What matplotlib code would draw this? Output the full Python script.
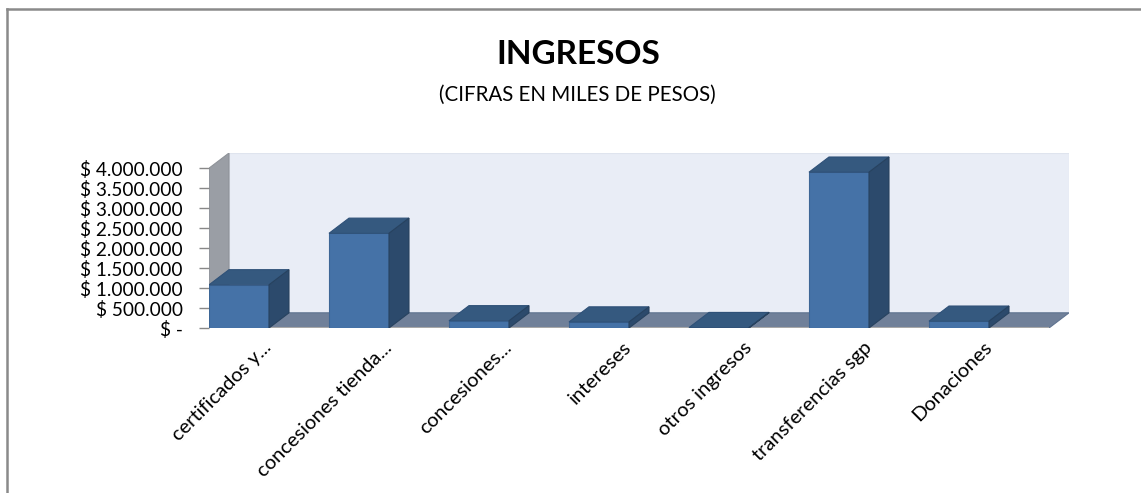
import numpy as np
import matplotlib
matplotlib.use('Agg')
import matplotlib.pyplot as plt
from matplotlib.patches import Polygon
from matplotlib.lines import Line2D

# data (miles de pesos)
categories = ['certificados y...', 'concesiones tienda...', 'concesiones...', 'intereses',
              'otros ingresos', 'transferencias sgp', 'Donaciones']
ingresos = [1080000, 2370000, 180000, 150000, 10000, 3900000, 170000]
y_ticks = [0, 500000, 1000000, 1500000, 2000000, 2500000, 3000000, 3500000, 4000000]
y_tick_labels = ['$ -', '$ 500.000', '$ 1.000.000', '$ 1.500.000', '$ 2.000.000',
                 '$ 2.500.000', '$ 3.000.000', '$ 3.500.000', '$ 4.000.000']

plt.rcParams['font.family'] = ['Lato', 'DejaVu Sans']

W, H = 1141, 493
fig = plt.figure(figsize=(W / 100, H / 100), dpi=100)

# axes placed in pixels: front floor edge at y=328, back wall top at y=153
ax = fig.add_axes([209 / W, (H - 328) / H, (1069 - 209) / W, (328 - 153) / H])

n = len(categories)
depth_x = 1 / 6      # depth offset in category units
depth_y = 380000     # depth offset in value units
ymax = y_ticks[-1]
bar_w = 0.5

c_front = '#4572a7'
c_top = '#35597f'
c_side = '#2c4a6c'
c_floor = '#708099'
c_back = '#e9edf6'
c_wall = '#9a9ea5'

# back wall, left wall, floor
ax.add_patch(Polygon([(depth_x, depth_y), (n + depth_x, depth_y), (n + depth_x, ymax + depth_y),
                      (depth_x, ymax + depth_y)], closed=True, fc=c_back, ec='#dfe4ee', lw=0.8, zorder=1))
ax.add_patch(Polygon([(0, 0), (depth_x, depth_y), (depth_x, ymax + depth_y), (0, ymax)],
                     closed=True, fc=c_wall, ec='#8f9399', lw=0.8, zorder=1))
ax.add_patch(Polygon([(0, 0), (n, 0), (n + depth_x, depth_y), (depth_x, depth_y)],
                     closed=True, fc=c_floor, ec='#5f7390', lw=0.8, zorder=2))
ax.plot([0, n], [0, 0], color='#a8a8a8', lw=1.5, zorder=2.5, solid_capstyle='butt')

# columns: front face + top + side
x = np.arange(n)
ax.bar(x, ingresos, width=bar_w, align='edge', color=c_front, edgecolor='#3d6696', lw=0.8, zorder=3)
for xi, v in zip(x, ingresos):
    x1 = xi + bar_w
    ax.add_patch(Polygon([(xi, v), (x1, v), (x1 + depth_x, v + depth_y), (xi + depth_x, v + depth_y)],
                         closed=True, fc=c_top, ec='#2f5178', lw=0.8, zorder=3))
    ax.add_patch(Polygon([(x1, 0), (x1 + depth_x, depth_y), (x1 + depth_x, v + depth_y), (x1, v)],
                         closed=True, fc=c_side, ec='#27425f', lw=0.8, zorder=3))

ax.set_xlim(0, n + depth_x)
ax.set_ylim(0, ymax + depth_y)
for s in ax.spines.values():
    s.set_visible(False)

ax.set_yticks(y_ticks)
ax.set_yticklabels(y_tick_labels, fontsize=13.7)
ax.tick_params(axis='y', length=7, width=1, color='#888888', pad=12)

ax.set_xticks(x + bar_w)
ax.set_xticklabels(categories, fontsize=14.5, rotation=45, ha='right', va='center',
                   rotation_mode='anchor')
ax.tick_params(axis='x', length=0, pad=12)

fig.text(578 / W, 1 - 54 / H, 'INGRESOS', ha='center', va='center', fontsize=24, fontweight='bold')
fig.text(577 / W, 1 - 95 / H, '(CIFRAS EN MILES DE PESOS)', ha='center', va='center', fontsize=14.8)

# chart frame (top and left edges only visible)
fig.add_artist(Line2D([7 / W, 7 / W], [0, 1 - 8.5 / H], color='#8a8a8a', lw=1.8))
fig.add_artist(Line2D([7 / W, 1], [1 - 8.5 / H, 1 - 8.5 / H], color='#8a8a8a', lw=1.8))

fig.savefig('out.png', dpi=100)
